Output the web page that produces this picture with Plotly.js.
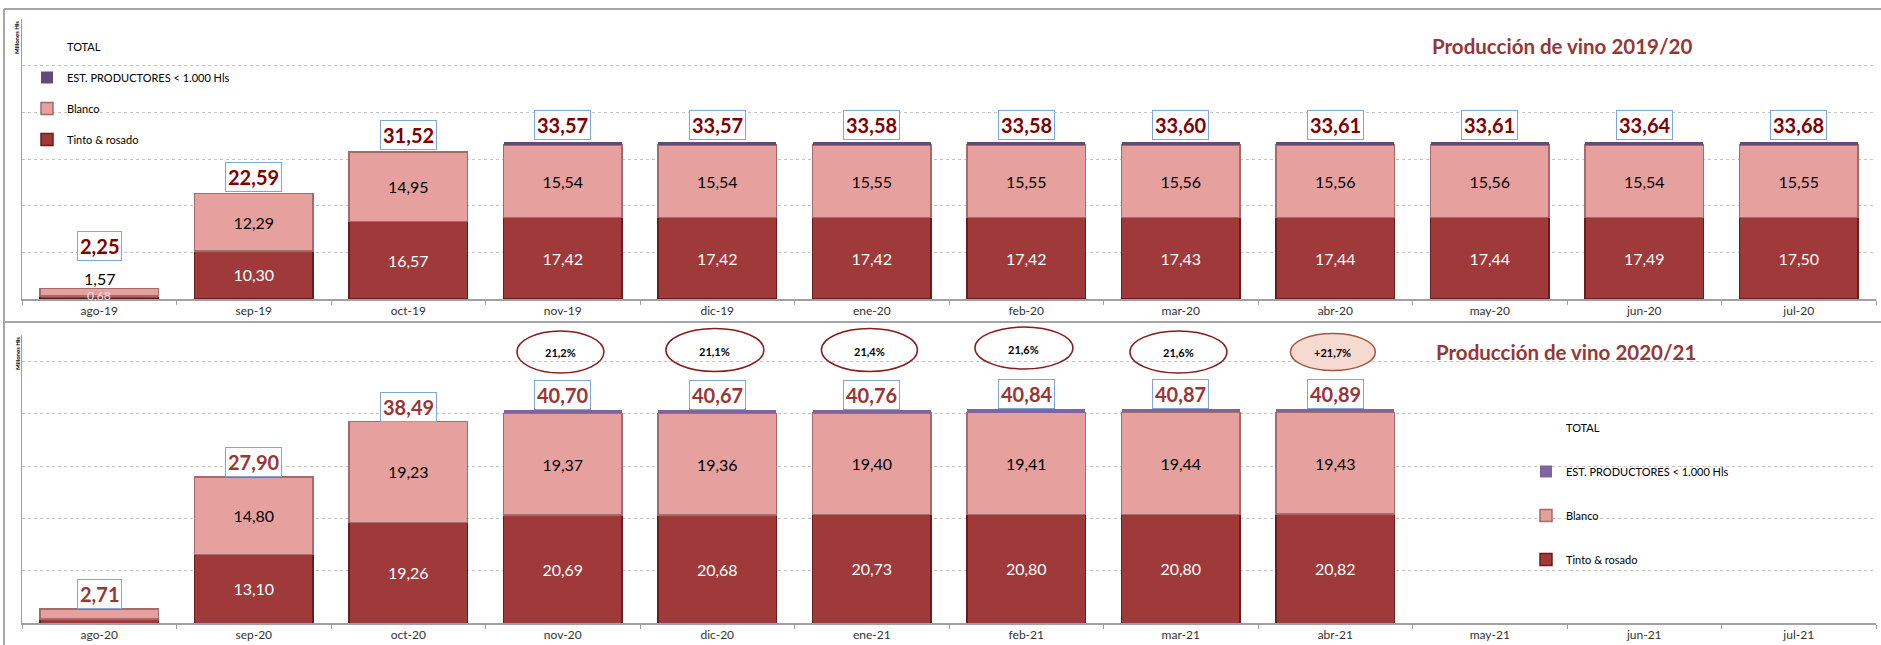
<!DOCTYPE html>
<html>
<head>
<meta charset="utf-8">
<script src="https://cdn.plot.ly/plotly-3.0.1.min.js"></script>
<style>
  html, body { margin: 0; padding: 0; background: #ffffff; }
  #chart { width: 1881px; height: 645px; }
</style>
</head>
<body>
<div id="chart"></div>
<script>
// ---------- DATA ----------
const catsTop = ['ago-19','sep-19','oct-19','nov-19','dic-19','ene-20','feb-20','mar-20','abr-20','may-20','jun-20','jul-20'];
const tintoTop = [0.68, 10.30, 16.57, 17.42, 17.42, 17.42, 17.42, 17.43, 17.44, 17.44, 17.49, 17.50];
const blancoTop = [1.57, 12.29, 14.95, 15.54, 15.54, 15.55, 15.55, 15.56, 15.56, 15.56, 15.54, 15.55];
const estTop = [null, null, null, 0.61, 0.61, 0.61, 0.61, 0.61, 0.61, 0.61, 0.61, 0.63];
const totalTop = [2.25, 22.59, 31.52, 33.57, 33.57, 33.58, 33.58, 33.60, 33.61, 33.61, 33.64, 33.68];

const catsBot = ['ago-20','sep-20','oct-20','nov-20','dic-20','ene-21','feb-21','mar-21','abr-21','may-21','jun-21','jul-21'];
const tintoBot = [0.80, 13.10, 19.26, 20.69, 20.68, 20.73, 20.80, 20.80, 20.82, null, null, null];
const blancoBot = [1.91, 14.80, 19.23, 19.37, 19.36, 19.40, 19.41, 19.44, 19.43, null, null, null];
const estBot = [null, null, null, 0.64, 0.63, 0.63, 0.63, 0.63, 0.64, null, null, null];
const totalBot = [2.71, 27.90, 38.49, 40.70, 40.67, 40.76, 40.84, 40.87, 40.89, null, null, null];

const pctCats = ['nov-20','dic-20','ene-21','feb-21','mar-21','abr-21'];
const pctLabels = ['21,2%','21,1%','21,4%','21,6%','21,6%','+21,7%'];

const titleTop = 'Producción de vino 2019/20';
const titleBot = 'Producción de vino 2020/21';
const names = { tinto: 'Tinto & rosado', blanco: 'Blanco', est: 'EST. PRODUCTORES < 1.000 Hls', total: 'TOTAL' };
const yLabel = 'Millones Hls';

// ---------- HELPERS ----------
const W = 1881, H = 645;
const px = v => v / W;
const py = v => (H - v) / H;
const fmt = v => (v == null ? '' : v.toFixed(2).replace('.', ','));
const FONT = 'Lato, "Open Sans", sans-serif';

const C_TINTO = '#a03a3a', C_TINTO_L = '#6b1c1c';
const C_BLANCO = '#e6a09e', C_BLANCO_L = '#a56a6a';
const C_EST_TOP = '#604a7b', C_EST_BOT = '#8064a2';

function panelTraces(cats, tinto, blanco, est, total, xa, ya, leg, estColor) {
  const common = {
    type: 'bar', x: cats, xaxis: xa, yaxis: ya, legend: leg,
    textposition: 'inside', insidetextanchor: 'middle', constraintext: 'none',
    textangle: 0, hoverinfo: 'skip', cliponaxis: false
  };
  // the first (tiny) bar's segment labels are handled separately
  return [
    Object.assign({}, common, {
      name: names.tinto, y: tinto, legendgroup: leg + 'a', legendrank: 4,
      text: tinto.map((v, i) => i === 0 ? '' : fmt(v)),
      textfont: { family: FONT, size: 16, color: '#ffffff' },
      marker: { color: C_TINTO, line: { color: C_TINTO_L, width: 1.5 } }
    }),
    Object.assign({}, common, {
      name: names.blanco, y: blanco, legendgroup: leg + 'b', legendrank: 3,
      text: blanco.map((v, i) => i === 0 ? '' : fmt(v)),
      textfont: { family: FONT, size: 16, color: '#000000' },
      marker: { color: C_BLANCO, line: { color: C_BLANCO_L, width: 1.5 } }
    }),
    Object.assign({}, common, {
      name: names.est, y: est, legendgroup: leg + 'c', legendrank: 2, text: est.map(() => ''),
      marker: { color: estColor, line: { width: 0 } }
    }),
    {
      type: 'scatter', mode: 'lines', name: names.total, x: cats, y: total,
      xaxis: xa, yaxis: ya, legend: leg, legendgroup: leg + 'd', legendrank: 1,
      line: { width: 0, color: 'rgba(0,0,0,0)' }, hoverinfo: 'skip'
    }
  ];
}

const data = [].concat(
  panelTraces(catsTop, tintoTop, blancoTop, estTop, totalTop, 'x', 'y', 'legend', C_EST_TOP),
  panelTraces(catsBot, tintoBot, blancoBot, estBot, totalBot, 'x2', 'y2', 'legend2', C_EST_BOT)
);

// ---------- ANNOTATIONS ----------
const annotations = [];
totalTop.forEach((v, i) => {
  if (v == null) return;
  annotations.push({
    xref: 'x', yref: 'y', x: catsTop[i], y: v, yanchor: 'bottom', yshift: i === 0 ? 28 : 2,
    text: '<b>' + fmt(v) + '</b>', showarrow: false,
    font: { family: FONT, size: 20, color: '#800000' },
    bgcolor: '#ffffff', bordercolor: '#7ea6d8', borderwidth: 1, borderpad: 2
  });
});
totalBot.forEach((v, i) => {
  if (v == null) return;
  annotations.push({
    xref: 'x2', yref: 'y2', x: catsBot[i], y: v, yanchor: 'bottom', yshift: 0,
    text: '<b>' + fmt(v) + '</b>', showarrow: false,
    font: { family: FONT, size: 20, color: '#9b3535' },
    bgcolor: '#ffffff', bordercolor: '#7ea6d8', borderwidth: 1, borderpad: 2
  });
});

// segment labels of the tiny first bar of the top panel (printed offset in the original)
annotations.push({ xref: 'x', yref: 'paper', x: catsTop[0], y: py(278), yanchor: 'middle', borderpad: 0,
  text: fmt(blancoTop[0]), showarrow: false, font: { family: FONT, size: 16, color: '#000000' } });
annotations.push({ xref: 'x', yref: 'paper', x: catsTop[0], y: py(295), yanchor: 'middle', borderpad: 0,
  text: fmt(tintoTop[0]), showarrow: false, font: { family: FONT, size: 12, color: '#f4e4e4' } });

// titles
annotations.push({ xref: 'paper', yref: 'paper', x: px(1430), y: py(46), xanchor: 'left', yanchor: 'middle',
  text: '<b>' + titleTop + '</b>', showarrow: false, font: { family: FONT, size: 20.5, color: '#953735' } });
annotations.push({ xref: 'paper', yref: 'paper', x: px(1434), y: py(352), xanchor: 'left', yanchor: 'middle',
  text: '<b>' + titleBot + '</b>', showarrow: false, font: { family: FONT, size: 20.5, color: '#953735' } });

// y labels
[38, 354].forEach(yc => annotations.push({ xref: 'paper', yref: 'paper', x: px(17), y: py(yc),
  xanchor: 'center', yanchor: 'middle', textangle: -90, text: '<b>' + yLabel + '</b>', showarrow: false,
  font: { family: FONT, size: 6, color: '#000000' } }));

// percentage ellipses (styles/positions)
const ellW = [87, 98, 96, 98, 97, 85];
const ellH = [42, 43, 43, 42, 42, 37];
const ellY = [352, 350, 350, 348, 352, 352];
const catW = (1876 - 22) / 12;
const shapes = [];
pctCats.forEach((c, k) => {
  const idx = catsBot.indexOf(c);
  const last = k === pctCats.length - 1;
  const hw = ellW[k] / 2 / catW;
  shapes.push({
    type: 'circle', xref: 'x2', yref: 'paper',
    x0: idx - hw - 0.015, x1: idx + hw - 0.015,
    y0: py(ellY[k] + ellH[k] / 2), y1: py(ellY[k] - ellH[k] / 2),
    line: { color: last ? '#9c5b3c' : '#8b1a1a', width: 1.5 },
    fillcolor: last ? '#f6d9d0' : 'rgba(0,0,0,0)', layer: 'above'
  });
  annotations.push({ xref: 'x2', yref: 'paper', x: idx - 0.015, y: py(ellY[k] + 1), xanchor: 'center', yanchor: 'middle',
    text: '<b>' + pctLabels[k] + '</b>', showarrow: false, font: { family: FONT, size: 11, color: '#000000' } });
});

// frame lines
const frame = { color: '#a6a6a6', width: 2 };
shapes.push({ type: 'line', xref: 'paper', yref: 'paper', x0: px(4), x1: 1, y0: py(9), y1: py(9), line: frame });
shapes.push({ type: 'line', xref: 'paper', yref: 'paper', x0: px(4), x1: 1, y0: py(322), y1: py(322), line: frame });
shapes.push({ type: 'line', xref: 'paper', yref: 'paper', x0: px(4), x1: px(4), y0: py(9), y1: 0, line: frame });

// ---------- AXES ----------
const xBase = {
  type: 'category', domain: [px(22), px(1876)], showgrid: false, zeroline: false,
  showline: true, linecolor: '#a0a0a0', linewidth: 1.5,
  ticks: 'outside', tickson: 'boundaries', ticklen: 4, tickcolor: '#a0a0a0', tickwidth: 1,
  tickfont: { family: FONT, size: 12, color: '#333333' }, fixedrange: true
};
const yBase = {
  showgrid: true, gridcolor: '#c4c4c4', griddash: 'dot', gridwidth: 1, dtick: 10, tick0: 0,
  showticklabels: false, ticks: '', zeroline: false, showline: true, linecolor: '#a0a0a0', linewidth: 1.5,
  fixedrange: true
};

const legBase = {
  xanchor: 'left', yanchor: 'top', traceorder: 'grouped',
  font: { family: FONT, size: 11, color: '#000000' }, bgcolor: 'rgba(0,0,0,0)', borderwidth: 0
};

const layout = {
  width: W, height: H, margin: { l: 0, r: 0, t: 0, b: 0 },
  paper_bgcolor: '#ffffff', plot_bgcolor: 'rgba(0,0,0,0)',
  barmode: 'stack', bargap: 0.236,
  font: { family: FONT },
  showlegend: true,
  xaxis: Object.assign({}, xBase, { anchor: 'y' }),
  yaxis: Object.assign({}, yBase, { anchor: 'x', domain: [py(299), py(19)], range: [0, 60] }),
  xaxis2: Object.assign({}, xBase, { anchor: 'y2' }),
  yaxis2: Object.assign({}, yBase, { anchor: 'x2', domain: [py(623.3), py(335)], range: [0, 55] }),
  legend: Object.assign({}, legBase, { x: px(27), y: py(32), tracegroupgap: 12 }),
  legend2: Object.assign({}, legBase, { x: px(1526), y: py(413), tracegroupgap: 25 }),
  annotations: annotations,
  shapes: shapes
};

Plotly.newPlot('chart', data, layout, { displayModeBar: false, staticPlot: true });
</script>
</body>
</html>
